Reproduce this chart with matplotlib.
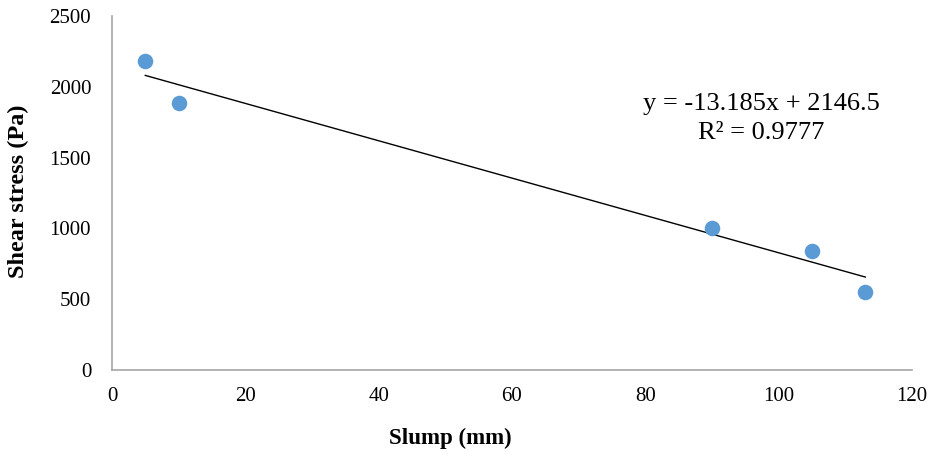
import matplotlib
matplotlib.use("Agg")
import matplotlib.pyplot as plt
import numpy as np

slump = [5, 10, 90, 105, 113]
shear = [2180, 1885, 1003, 838, 552]
slope = -13.185
intercept = 2146.5
eq_line1 = "y = -13.185x + 2146.5"
eq_line2 = "R² = 0.9777"
x_ticks = [0, 20, 40, 60, 80, 100, 120]
y_ticks = [0, 500, 1000, 1500, 2000, 2500]

plt.rcParams['font.family'] = ['Liberation Serif', 'DejaVu Serif']

fig = plt.figure(figsize=(9.34, 4.55), dpi=100)
ax = fig.add_axes([0.1199, 0.1868, 0.8565, 0.778])

ax.scatter(slump, shear, s=125, color='#5B9BD5', zorder=3, linewidths=0)
xl = np.array([min(slump), max(slump)])
ax.plot(xl, slope * xl + intercept, color='black', lw=1.0, zorder=2)

ax.set_xlim(0, 120)
ax.set_ylim(0, 2500)
ax.set_xticks(x_ticks)
ax.set_yticks(y_ticks)
ax.tick_params(length=0, labelsize=15)
ax.tick_params(axis='x', pad=12)
ax.tick_params(axis='y', pad=15)
for s in ['top', 'right']:
    ax.spines[s].set_visible(False)
for s in ['left', 'bottom']:
    ax.spines[s].set_color('#A6A6A6')
    ax.spines[s].set_linewidth(1.2)

ax.text(97.4, 1878, eq_line1, ha='center', va='center', fontsize=19)
ax.text(97.4, 1674, eq_line2, ha='center', va='center', fontsize=19)

fig.text(450 / 934, 1 - 438 / 455, 'Slump (mm)', ha='center', va='center',
         fontsize=16.5, fontweight='bold')
fig.text(18 / 934, 1 - 191 / 455, 'Shear stress (Pa)', ha='center', va='center',
         rotation=90, fontsize=17.5, fontweight='bold')

fig.savefig('out.png', dpi=100)
